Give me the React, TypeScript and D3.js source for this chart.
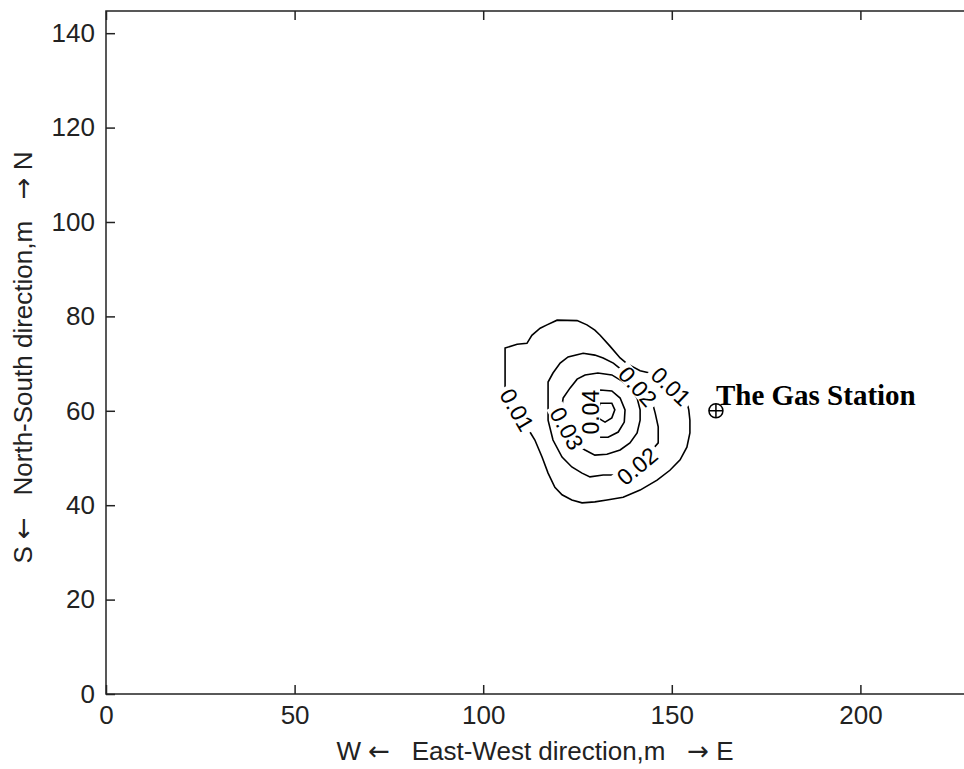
import * as d3 from "d3";
import React from "react";

// axis setup (metres)
const xTicks = [0, 50, 100, 150, 200];
const yTicks = [0, 20, 40, 60, 80, 100, 120, 140];
const xLimits: [number, number] = [0, 230];
const yLimits: [number, number] = [0, 144.7];

// contour outlines, [x, y] in metres
const ring001 = [
  [105.8, 73.3], [109.0, 74.1], [111.6, 74.3], [112.9, 76.0], [115.1, 77.5],
  [116.9, 78.2], [119.6, 79.2], [124.9, 79.1], [127.5, 78.2], [129.6, 77.1],
  [131.0, 76.0], [133.6, 73.7], [136.3, 71.2], [138.1, 70.0], [141.6, 68.5],
  [144.7, 67.9], [149.0, 65.9], [154.0, 61.9], [154.5, 60.2], [154.8, 58.0],
  [154.8, 55.3], [154.0, 52.3], [152.2, 49.6], [149.5, 47.4], [146.1, 45.3],
  [141.6, 43.2], [137.1, 41.7], [132.8, 41.1], [129.6, 40.7], [126.2, 40.5],
  [123.5, 41.1], [120.9, 42.2], [119.0, 43.8], [117.2, 46.8], [115.6, 50.2],
  [113.7, 53.8], [112.4, 55.5], [109.2, 60.2], [106.6, 64.4], [105.8, 65.0],
];
const ring002 = [
  [117.2, 60.2], [117.2, 66.1], [118.5, 68.0], [120.4, 70.1], [122.5, 71.4],
  [126.5, 72.2], [129.6, 71.8], [131.8, 71.2], [134.5, 70.1], [136.8, 68.6],
  [141.1, 65.0], [144.8, 61.9], [145.6, 59.5], [146.4, 56.6], [146.4, 53.2],
  [142.9, 50.0], [138.9, 47.9], [135.0, 46.4], [131.8, 46.4], [128.3, 46.0],
  [126.2, 46.8], [123.5, 48.1], [120.9, 50.2], [118.5, 53.8], [117.2, 58.0],
];
const ring003 = [
  [121.2, 62.7], [123.0, 64.8], [124.9, 66.7], [127.0, 67.6], [130.4, 68.0],
  [134.1, 67.6], [136.8, 66.3], [138.9, 64.8], [140.8, 62.7], [141.6, 60.2],
  [141.6, 58.0], [140.8, 55.3], [138.9, 53.2], [136.3, 51.7], [132.8, 50.8],
  [129.6, 50.6], [127.0, 51.7], [124.9, 52.7], [122.5, 56.3], [120.6, 59.7],
];
const ring004 = [
  [128.8, 64.0], [131.0, 64.4], [134.1, 64.2], [136.3, 62.7], [137.6, 60.2],
  [137.4, 57.6], [135.8, 55.5], [133.1, 54.4], [130.4, 54.4], [128.3, 55.5],
  [127.8, 59.7],
];
const ring005 = [
  [131.0, 61.6], [134.1, 61.6], [134.9, 60.2], [134.1, 58.5], [132.3, 57.6],
  [130.4, 58.5], [130.4, 60.2],
];
const rings = [ring001, ring002, ring003, ring004, ring005];

// inline contour labels
const labelText = ["0.01", "0.01", "0.02", "0.02", "0.03", "0.04"];
const labelX = [149.8, 109.0, 141.0, 140.8, 122.2, 128.6];
const labelY = [65.2, 60.2, 65.2, 48.3, 56.3, 59.7];
const labelAngle = [44, 60, 48, -40, 61, -90];

const stationName = "The Gas Station";
const stationX = 161.7;
const stationY = 60;

// axis titles: [left end, arrow, middle, arrow, right end]
const xTitle = ["W ", "\u2190", "   East-West direction,m   ", "\u2192", " E"];
const yTitle = ["S ", "\u2190", "   North-South direction,m   ", "\u2192", " N"];

export default function App() {
  const ref = React.useRef<SVGSVGElement>(null);

  React.useEffect(() => {
    if (!ref.current) return;
    const W = 964;
    const H = 769;
    const svg = d3.select(ref.current);
    svg.selectAll("*").remove();
    svg.attr("width", W).attr("height", H);

    const x = d3.scaleLinear().domain(xLimits).range([106, 106 + 230 * 3.772]);
    const y = d3.scaleLinear().domain(yLimits).range([694, 11]);
    const sans = "'Liberation Sans', Arial, 'DejaVu Sans', sans-serif";
    const ink = "#222";

    svg.append("rect").attr("width", W).attr("height", H).attr("fill", "#fff");

    // box
    svg
      .append("rect")
      .attr("x", x(xLimits[0]))
      .attr("y", y(yLimits[1]))
      .attr("width", x(xLimits[1]) - x(xLimits[0]))
      .attr("height", y(yLimits[0]) - y(yLimits[1]))
      .attr("fill", "none")
      .attr("stroke", ink)
      .attr("stroke-width", 1.5);

    const styleAxis = (g: any) => {
      g.select(".domain").remove();
      g.selectAll("line").attr("stroke", ink).attr("stroke-width", 1.5);
      g.selectAll("text")
        .attr("fill", ink)
        .style("font-family", sans)
        .style("font-size", "26px");
    };

    svg
      .append("g")
      .attr("transform", `translate(0,${y(0)})`)
      .call(d3.axisBottom(x).tickValues(xTicks).tickSize(-9).tickSizeOuter(0).tickPadding(12))
      .call(styleAxis);
    svg
      .append("g")
      .attr("transform", `translate(0,${y(yLimits[1])})`)
      .call(d3.axisTop(x).tickValues(xTicks).tickSize(-9).tickSizeOuter(0).tickFormat(() => ""))
      .call(styleAxis);
    svg
      .append("g")
      .attr("transform", `translate(${x(0)},0)`)
      .call(d3.axisLeft(y).tickValues(yTicks).tickSize(-9).tickSizeOuter(0).tickPadding(11))
      .call(styleAxis);

    // contours
    const line = d3
      .line<number[]>()
      .x((d) => x(d[0]))
      .y((d) => y(d[1]))
      .curve(d3.curveLinearClosed);
    svg
      .append("g")
      .selectAll("path")
      .data(rings)
      .enter()
      .append("path")
      .attr("d", (d) => line(d))
      .attr("fill", "none")
      .attr("stroke", "#000")
      .attr("stroke-width", 1.6);

    // labels with a white gap in the line
    const lab = svg
      .append("g")
      .selectAll("g")
      .data(labelText)
      .enter()
      .append("g")
      .attr(
        "transform",
        (_d, i) => `translate(${x(labelX[i])},${y(labelY[i])}) rotate(${labelAngle[i]})`
      );
    lab
      .append("rect")
      .attr("x", -26)
      .attr("y", -9)
      .attr("width", 52)
      .attr("height", 18)
      .attr("fill", "#fff");
    lab
      .append("text")
      .attr("text-anchor", "middle")
      .attr("dy", "0.36em")
      .style("font-family", sans)
      .style("font-size", "23px")
      .attr("fill", "#000")
      .text((d) => d);

    // the station
    const sx = x(stationX);
    const sy = y(stationY);
    svg
      .append("circle")
      .attr("cx", sx)
      .attr("cy", sy)
      .attr("r", 7)
      .attr("fill", "none")
      .attr("stroke", "#000")
      .attr("stroke-width", 1.5);
    svg
      .append("path")
      .attr("d", `M${sx - 7},${sy}H${sx + 7}M${sx},${sy - 7}V${sy + 7}`)
      .attr("stroke", "#000")
      .attr("stroke-width", 1.5);
    svg
      .append("text")
      .attr("x", sx)
      .attr("y", sy - 6)
      .style("font-family", "'Liberation Serif', 'Times New Roman', serif")
      .style("font-weight", "bold")
      .style("font-size", "29px")
      .attr("fill", "#000")
      .text(stationName);

    // axis titles, arrows in DejaVu so they come out long like the original
    const title = (t: any, parts: string[]) => {
      parts.forEach((p, i) => {
        t.append("tspan")
          .style("font-family", i % 2 === 1 ? "'DejaVu Sans', sans-serif" : sans)
          .text(p);
      });
    };
    const xt = svg
      .append("text")
      .attr("x", 535)
      .attr("y", 760)
      .attr("text-anchor", "middle")
      .style("font-size", "26px")
      .style("white-space", "pre")
      .attr("fill", ink);
    title(xt, xTitle);
    const yt = svg
      .append("text")
      .attr("transform", `translate(32,${(y(0) + y(yLimits[1])) / 2 + 5}) rotate(-90)`)
      .attr("text-anchor", "middle")
      .style("font-size", "26px")
      .style("white-space", "pre")
      .attr("fill", ink);
    title(yt, yTitle);

    return () => {
      svg.selectAll("*").remove();
    };
  }, []);

  return (
    <div style={{ position: "absolute", left: 0, top: 0 }}>
      <svg ref={ref} style={{ display: "block" }} />
    </div>
  );
}
